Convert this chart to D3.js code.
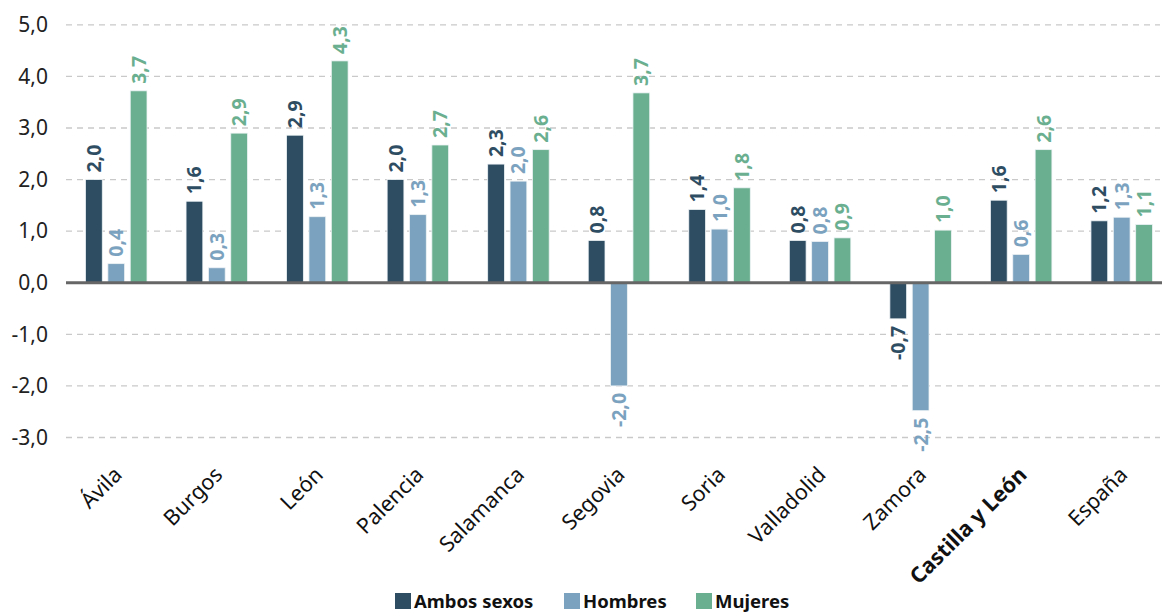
<!DOCTYPE html>
<html>
<head>
<meta charset="utf-8">
<script src="https://cdn.jsdelivr.net/npm/d3@7"></script>
<style>
  html, body { margin: 0; padding: 0; background: #fff; }
  svg { display: block; font-family: "Noto Sans", "Open Sans", sans-serif; }
</style>
</head>
<body>
<svg id="chart" width="1162" height="612"></svg>
<script>
const categories = ["Ávila", "Burgos", "León", "Palencia", "Salamanca", "Segovia", "Soria", "Valladolid", "Zamora", "Castilla y León", "España"];
const seriesNames = ["Ambos sexos", "Hombres", "Mujeres"];
const ambos   = [2.0, 1.58, 2.86, 2.0, 2.3, 0.82, 1.42, 0.82, -0.7, 1.6, 1.2];
const hombres = [0.37, 0.29, 1.28, 1.32, 1.97, -2.0, 1.04, 0.8, -2.48, 0.55, 1.27];
const mujeres = [3.72, 2.9, 4.3, 2.67, 2.58, 3.68, 1.84, 0.87, 1.02, 2.58, 1.13];
const yTicks = [-3, -2, -1, 0, 1, 2, 3, 4, 5];
const colors = ["#2e4d63", "#7ba2be", "#6aaf8f"];
const boldCategory = "Castilla y León";

const svg = d3.select("#chart");
const fmt = v => d3.format(".1f")(v).replace(".", ",").replace("−", "-");

const x0 = d3.scaleBand().domain(categories).range([66, 1172]).padding(0);
const x1 = d3.scaleBand().domain(seriesNames).range([19.5, 81]).paddingInner(0.25).paddingOuter(0);
const y = d3.scaleLinear().domain([-3, 5]).range([437.5, 24.8]);

// gridlines
svg.append("g").selectAll("line").data(yTicks.filter(t => t !== 0)).join("line")
  .attr("x1", 66).attr("x2", 1160)
  .attr("y1", d => y(d)).attr("y2", d => y(d))
  .attr("stroke", "#c9c9c9").attr("stroke-width", 1.3).attr("stroke-dasharray", "6,5");

// y axis labels
const yAxis = d3.axisLeft(y).tickValues(yTicks).tickFormat(fmt).tickSize(0).tickPadding(0);
const ya = svg.append("g").attr("transform", "translate(48,0)").call(yAxis);
ya.select(".domain").remove();
ya.selectAll("text").attr("font-size", 21).attr("fill", "#222").attr("font-family", "'Noto Sans', sans-serif");

const data = [ambos, hombres, mujeres];

// bars
const groups = svg.append("g").selectAll("g").data(categories).join("g")
  .attr("transform", d => `translate(${x0(d)},0)`);

groups.each(function(cat, i) {
  const g = d3.select(this);
  seriesNames.forEach((s, j) => {
    const v = data[j][i];
    g.append("rect")
      .attr("x", x1(s)).attr("width", x1.bandwidth())
      .attr("y", Math.min(y(v), y(0)))
      .attr("height", Math.abs(y(v) - y(0)))
      .attr("fill", colors[j])
      .attr("stroke", "#eef3f5").attr("stroke-width", 0.8);
    const cx = x1(s) + x1.bandwidth() / 2;
    const ty = v >= 0 ? y(v) - 7 : y(v) + 7;
    g.append("text")
      .attr("transform", `translate(${cx + 7},${ty}) rotate(-90)`)
      .attr("text-anchor", v >= 0 ? "start" : "end")
      .attr("font-size", 19.5).attr("font-weight", "bold")
      .attr("fill", colors[j])
      .text(fmt(v));
  });
});

// zero line
svg.append("line").attr("x1", 66).attr("x2", 1162).attr("y1", y(0)).attr("y2", y(0))
  .attr("stroke", "#666").attr("stroke-width", 3);

// category labels
svg.append("g").selectAll("text").data(categories).join("text")
  .attr("transform", d => `translate(${x0(d) + x0.bandwidth() / 2 + 7},${476}) rotate(-45)`)
  .attr("text-anchor", "end")
  .attr("font-size", 21.5)
  .attr("font-weight", d => d === boldCategory ? "bold" : "normal")
  .attr("fill", "#111")
  .text(d => d);

// legend
const legendX = [395, 564, 696];
const leg = svg.append("g").selectAll("g").data(seriesNames).join("g")
  .attr("transform", (d, i) => `translate(${legendX[i]},593)`);
leg.append("rect").attr("width", 16).attr("height", 16).attr("fill", (d, i) => colors[i]);
leg.append("text").attr("x", 19).attr("y", 15).attr("font-size", 18.5).attr("font-weight", "bold")
  .attr("fill", "#111").text(d => d);
</script>
</body>
</html>
